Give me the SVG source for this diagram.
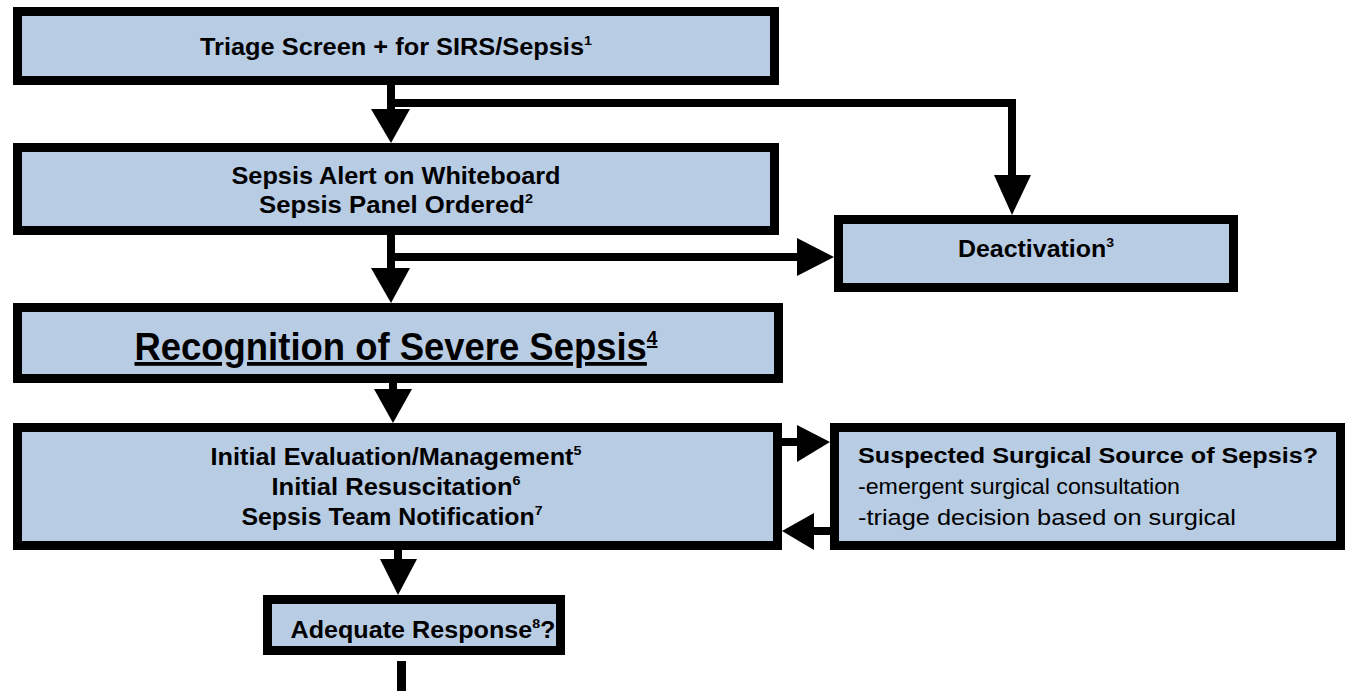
<svg xmlns="http://www.w3.org/2000/svg" width="1348" height="691" viewBox="0 0 1348 691">
<style>
.box{fill:#b8cce4;stroke:#000;stroke-width:9}
.ln{fill:none;stroke:#000;stroke-width:8}
.ah{fill:#000}
.n{font-family:"Liberation Sans Narrow","Liberation Sans",Arial,sans-serif;font-weight:bold;fill:#000;text-anchor:middle;font-size:23px}
.big{font-size:38px}
.s{font-family:"Liberation Sans",Arial,sans-serif;fill:#000;font-size:22px}
</style>
<rect width="1348" height="691" fill="#fff"/>
<g id="connectors">
<path class="ln" d="M391,85 V112"/>
<polygon class="ah" points="371,109 410,109 391,143"/>
<path class="ln" d="M391,103 H1012 V178"/>
<polygon class="ah" points="994,175 1031,175 1012,215"/>
<path class="ln" d="M391,235 V270"/>
<polygon class="ah" points="371,268 410,268 391,303"/>
<path class="ln" d="M391,257 H800"/>
<polygon class="ah" points="797,238 797,276 834,257"/>
<path class="ln" d="M393,383 V392"/>
<polygon class="ah" points="374,389 412,389 393,423"/>
<path class="ln" d="M782,442 H800"/>
<polygon class="ah" points="797,425 797,462 830,442"/>
<path class="ln" d="M830,531 H811"/>
<polygon class="ah" points="814,513 814,550 782,531"/>
<path class="ln" d="M398,550 V562"/>
<polygon class="ah" points="380,559 417,559 398,595"/>
<path d="M401.5,661 V691" stroke="#000" stroke-width="9"/>
</g>
<g id="triage">
<rect class="box" x="17.5" y="11.5" width="757" height="69"/>
<text class="n" x="396" y="55" textLength="392" lengthAdjust="spacingAndGlyphs">Triage Screen + for SIRS/Sepsis<tspan font-size="13" dy="-10">1</tspan></text>
</g>
<g id="alert">
<rect class="box" x="17.5" y="147.5" width="757" height="83"/>
<text class="n" x="396" y="184" textLength="329" lengthAdjust="spacingAndGlyphs">Sepsis Alert on Whiteboard</text>
<text class="n" x="396" y="213" textLength="274" lengthAdjust="spacingAndGlyphs">Sepsis Panel Ordered<tspan font-size="13" dy="-10">2</tspan></text>
</g>
<g id="deactivation">
<rect class="box" x="838.5" y="219.5" width="395" height="68"/>
<text class="n" x="1036" y="257" textLength="156" lengthAdjust="spacingAndGlyphs">Deactivation<tspan font-size="13" dy="-10">3</tspan></text>
</g>
<g id="recognition">
<rect class="box" x="17.5" y="307.5" width="761" height="71"/>
<text class="n big" x="396" y="360" textLength="523" lengthAdjust="spacingAndGlyphs" text-decoration="underline">Recognition of Severe Sepsis<tspan font-size="20" dy="-15">4</tspan></text>
</g>
<g id="initial">
<rect class="box" x="17.5" y="427.5" width="760" height="118"/>
<text class="n" x="396" y="465" textLength="371" lengthAdjust="spacingAndGlyphs">Initial Evaluation/Management<tspan font-size="13" dy="-10">5</tspan></text>
<text class="n" x="396" y="495" textLength="249" lengthAdjust="spacingAndGlyphs">Initial Resuscitation<tspan font-size="13" dy="-10">6</tspan></text>
<text class="n" x="392" y="525" textLength="301" lengthAdjust="spacingAndGlyphs">Sepsis Team Notification<tspan font-size="13" dy="-10">7</tspan></text>
</g>
<g id="surgical">
<rect class="box" x="834.5" y="427.5" width="506" height="118"/>
<text class="s" x="858" y="463" font-weight="bold" textLength="460" lengthAdjust="spacingAndGlyphs">Suspected Surgical Source of Sepsis?</text>
<text class="s" x="858" y="494" textLength="322" lengthAdjust="spacingAndGlyphs">-emergent surgical consultation</text>
<text class="s" x="858" y="525" textLength="378" lengthAdjust="spacingAndGlyphs">-triage decision based on surgical</text>
</g>
<g id="adequate">
<rect class="box" x="267.5" y="599.5" width="293" height="51"/>
<text class="n" x="423" y="638" textLength="265" lengthAdjust="spacingAndGlyphs">Adequate Response<tspan font-size="13" dy="-10">8</tspan><tspan dy="10">?</tspan></text>
</g>
</svg>
